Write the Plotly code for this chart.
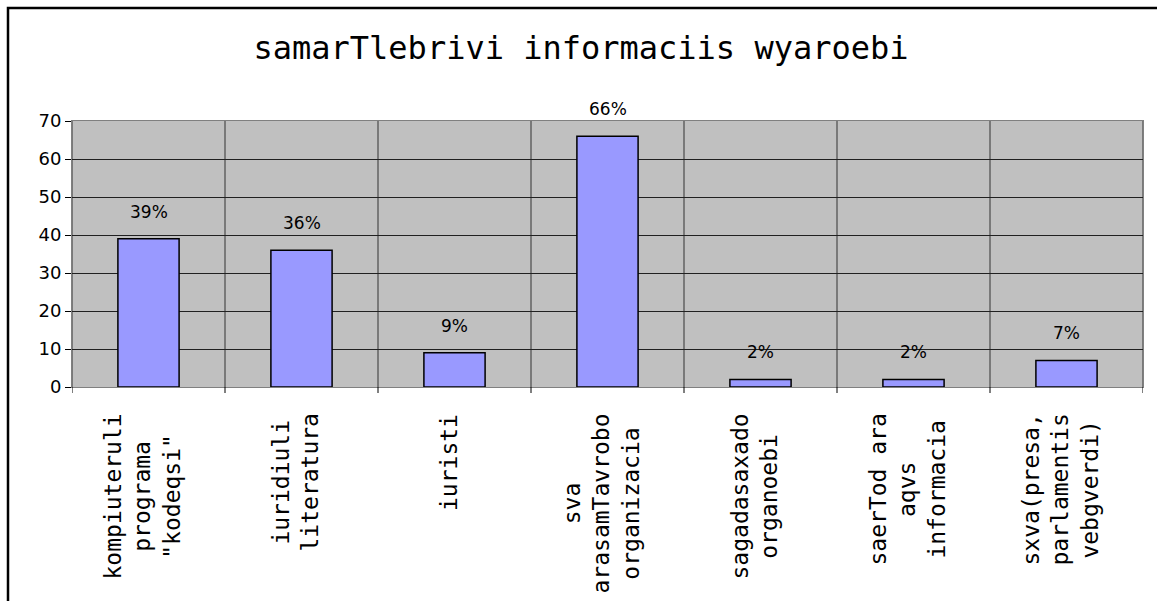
import plotly.graph_objects as go

categories = [
    'kompiuteruli<br>programa<br>"kodeqsi"',
    'iuridiuli<br>literatura',
    'iuristi',
    'sva<br>arasamTavrobo<br>organizacia',
    'sagadasaxado<br>organoebi',
    'saerTod ara<br>aqvs<br>informacia',
    'sxva(presa,<br>parlamentis<br>vebgverdi)',
]
values = [39, 36, 9, 66, 2, 2, 7]
labels = ["39%", "36%", "9%", "66%", "2%", "2%", "7%"]
title_text = "samarTlebrivi informaciis wyaroebi"

W, H = 1157, 601
L, R, T, B = 72, 1143, 121, 387
pw, ph = R - L, B - T

fig = go.Figure()
fig.add_trace(go.Bar(
    x=list(range(len(categories))), y=values,
    marker=dict(color="#9999FF", line=dict(color="black", width=1.5)),
    width=0.4, hoverinfo="skip",
))

for i, (v, t) in enumerate(zip(values, labels)):
    fig.add_annotation(x=i, y=v, text=t, showarrow=False, yanchor="bottom",
                       yshift=15, font=dict(family="DejaVu Sans", size=17, color="black"))

# category labels, rotated, lines centred within the block
for i, c in enumerate(categories):
    fig.add_annotation(x=i, xref="x", y=-25 / ph, yref="paper", text=c,
                       showarrow=False, textangle=-90, xanchor="center",
                       yanchor="top", align="center", xshift=-6,
                       font=dict(family="DejaVu Sans Mono", size=23, color="black"))

# vertical category separators
for k in range(len(categories) + 1):
    fig.add_shape(type="line", xref="x", yref="paper", x0=k - 0.5, x1=k - 0.5,
                  y0=0, y1=1, line=dict(color="#333333", width=1), layer="below")
    fig.add_shape(type="line", xref="x", yref="paper", x0=k - 0.5, x1=k - 0.5,
                  y0=0, y1=-6 / ph, line=dict(color="black", width=1))

# outer chart border (top and left visible)
fig.add_shape(type="rect", xref="paper", yref="paper",
              x0=(8 - L) / pw, x1=(1170 - L) / pw,
              y0=(B - 620) / ph, y1=(B - 8) / ph,
              line=dict(color="black", width=2.5))

fig.update_layout(
    width=W, height=H,
    margin=dict(l=L, r=W - R, t=T, b=H - B),
    paper_bgcolor="white", plot_bgcolor="#C0C0C0",
    showlegend=False,
    title=dict(text=title_text, x=(581 - L) / pw, xref="paper", xanchor="center",
               y=1 - 48 / H, yanchor="middle",
               font=dict(family="DejaVu Sans Mono", size=32, color="black")),
    bargap=0.6,
)
fig.update_xaxes(
    range=[-0.5, len(categories) - 0.5],
    tickvals=list(range(len(categories))), showticklabels=False,
    showgrid=False, zeroline=False,
    showline=True, linecolor="#808080", mirror=True,
    ticks="", automargin=False,
)
fig.update_yaxes(
    range=[0, 70], dtick=10, showgrid=True, gridcolor="#202020", gridwidth=1,
    zeroline=True, zerolinecolor="black", zerolinewidth=1,
    showline=True, linecolor="#808080", mirror=True,
    ticks="outside", ticklen=6, tickcolor="black",
    tickfont=dict(family="DejaVu Sans", size=18, color="black"),
    automargin=False,
)

fig.write_html("out.html", config={"displayModeBar": False},
               post_script="document.body.style.margin='0';")
